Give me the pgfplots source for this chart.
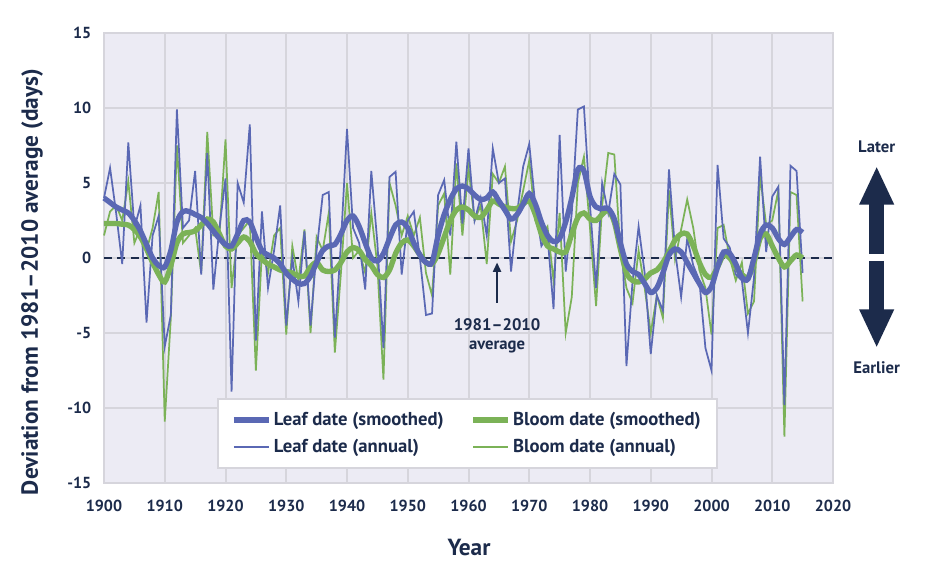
\documentclass[border=0pt]{standalone}
\usepackage{pgfplots}
\pgfplotsset{compat=1.18}
\usepackage{pgfplotstable}
\usepackage{fontspec}
\setmainfont{PT Sans}
\usetikzlibrary{arrows.meta}
\definecolor{bgc}{HTML}{ECEBF4}
\definecolor{gridc}{HTML}{D6D5DC}
\definecolor{leafc}{HTML}{5A68B4}
\definecolor{bloomc}{HTML}{7BB257}
\definecolor{navy}{HTML}{1C2B4B}

\pgfplotstableread{
year leaf bloom
1900 4.0 1.5
1901 6.0 3.1
1902 3.0 3.5
1903 -0.4 2.5
1904 7.7 5.1
1905 2.0 1.0
1906 3.5 2.0
1907 -4.3 0.5
1908 1.5 2.0
1909 2.8 4.4
1910 -5.9 -10.9
1911 -3.8 -4.0
1912 9.9 7.5
1913 2.0 1.0
1914 2.5 1.5
1915 5.8 2.0
1916 -1.1 -1.0
1917 7.0 8.4
1918 -2.1 1.5
1919 2.0 1.5
1920 5.3 7.9
1921 -8.9 -2.0
1922 5.0 1.5
1923 3.7 2.0
1924 8.9 2.5
1925 -5.5 -7.5
1926 3.1 0.5
1927 -2.0 -1.0
1928 0.5 1.5
1929 3.5 2.0
1930 -4.5 -5.1
1931 0.0 0.8
1932 -2.9 -1.5
1933 1.8 1.9
1934 -4.5 -5.0
1935 0.5 1.4
1936 4.2 0.5
1937 4.4 3.0
1938 -5.3 -6.3
1939 1.0 -1.0
1940 8.6 5.0
1941 2.0 0.0
1942 1.0 0.5
1943 -2.1 -1.0
1944 5.8 3.0
1945 1.0 -0.5
1946 -6.0 -8.1
1947 5.4 5.0
1948 5.75 3.5
1949 -1.1 1.5
1950 2.5 2.8
1951 3.1 1.5
1952 0.0 2.7
1953 -3.8 -1.0
1954 -3.7 -2.5
1955 4.2 3.5
1956 5.2 4.3
1957 1.5 -1.1
1958 7.75 6.3
1959 2.3 1.5
1960 7.3 6.0
1961 2.5 2.5
1962 4.0 3.5
1963 1.5 -0.4
1964 7.3 5.6
1965 5.0 5.0
1966 5.3 6.1
1967 -0.9 1.1
1968 3.0 2.5
1969 6.1 4.5
1970 7.6 6.5
1971 3.5 2.5
1972 0.8 1.5
1973 1.5 2.1
1974 -3.4 -1.5
1975 8.2 3.0
1976 -0.9 -5.0
1977 3.0 -2.6
1978 9.9 5.0
1979 10.1 6.75
1980 3.5 2.0
1981 -2.0 -3.2
1982 5.0 3.5
1983 3.0 7.0
1984 5.6 6.9
1985 4.9 0.5
1986 -7.2 -2.0
1987 -1.6 -3.0
1988 2.1 0.5
1989 -1.0 -2.0
1990 -6.4 -5.0
1991 -2.5 -2.5
1992 -3.5 -4.0
1993 5.9 4.5
1994 0.5 -0.1
1995 -2.6 1.9
1996 1.3 3.9
1997 -0.5 2.0
1998 -1.5 -0.8
1999 -6.0 -2.0
2000 -7.5 -5.1
2001 6.2 2.0
2002 1.3 2.2
2003 0.7 0.0
2004 -1.1 -1.5
2005 -1.5 -0.3
2006 -5.0 -3.7
2007 -1.3 -2.9
2008 6.75 5.5
2009 0.4 2.2
2010 4.1 2.5
2011 4.75 4.5
2012 -9.8 -11.9
2013 6.15 4.4
2014 5.8 4.2
2015 -1.0 -2.9
}\annual

\pgfplotstableread{
year leaf bloom
1900 4.0 2.3
1901 3.7 2.3
1902 3.4 2.3
1903 3.2 2.25
1904 3.0 2.2
1905 2.5 1.9
1906 1.8 1.4
1907 0.9 0.6
1908 0.0 -0.3
1909 -0.5 -1.1
1910 -0.6 -1.6
1911 0.5 -0.5
1912 2.4 1.0
1913 3.1 1.6
1914 3.1 1.7
1915 2.9 1.8
1916 2.7 2.2
1917 2.3 2.6
1918 1.8 2.4
1919 1.3 1.6
1920 0.9 0.8
1921 0.8 0.6
1922 1.6 1.0
1923 2.5 1.4
1924 2.4 1.1
1925 1.4 0.3
1926 0.5 -0.1
1927 0.2 -0.4
1928 0.0 -0.6
1929 -0.4 -0.8
1930 -1.0 -0.9
1931 -1.4 -1.0
1932 -1.7 -1.2
1933 -1.7 -1.2
1934 -1.2 -0.6
1935 -0.3 -0.3
1936 0.5 -0.8
1937 0.8 -0.9
1938 0.9 -0.8
1939 1.6 -0.3
1940 2.5 0.4
1941 2.8 0.7
1942 2.1 0.5
1943 1.0 -0.1
1944 0.0 -0.5
1945 -0.2 -1.1
1946 0.3 -1.3
1947 1.3 -0.8
1948 2.2 0.3
1949 2.4 1.0
1950 2.0 1.2
1951 1.0 0.8
1952 0.2 0.2
1953 -0.3 -0.3
1954 -0.3 -0.4
1955 1.5 0.3
1956 2.9 1.4
1957 3.9 2.5
1958 4.6 3.2
1959 4.8 3.4
1960 4.6 3.2
1961 4.2 2.8
1962 3.9 2.7
1963 4.0 3.2
1964 4.4 3.8
1965 3.8 3.6
1966 3.2 3.4
1967 2.6 3.3
1968 2.9 3.3
1969 3.6 3.6
1970 4.3 3.8
1971 3.6 2.9
1972 2.4 1.6
1973 1.5 0.8
1974 1.1 0.6
1975 1.3 0.4
1976 2.4 0.4
1977 4.0 1.6
1978 5.9 2.7
1979 5.8 3.0
1980 4.1 2.6
1981 3.4 2.5
1982 3.3 2.9
1983 3.3 3.2
1984 2.6 2.4
1985 1.0 0.6
1986 -0.4 -1.0
1987 -0.9 -1.5
1988 -1.1 -1.6
1989 -1.7 -1.4
1990 -2.3 -1.0
1991 -2.0 -0.8
1992 -1.0 -0.3
1993 0.2 0.4
1994 0.6 1.2
1995 0.4 1.6
1996 -0.3 1.6
1997 -1.0 0.8
1998 -1.7 -0.3
1999 -2.3 -1.1
2000 -1.9 -1.3
2001 -0.6 -0.6
2002 0.4 0.2
2003 0.3 0.0
2004 -0.4 -0.6
2005 -1.3 -1.1
2006 -1.4 -1.3
2007 0.0 -0.3
2008 1.6 1.3
2009 2.2 1.6
2010 2.0 0.8
2011 1.3 0.0
2012 0.9 -0.6
2013 1.4 -0.2
2014 1.9 0.2
2015 1.7 0.0
}\smoothed

\begin{document}
\begin{tikzpicture}
\useasboundingbox (-78pt,-72.75pt) rectangle (618pt,362.25pt);
\begin{axis}[
  at={(0pt,0pt)}, anchor=south west,
  scale only axis, width=546.75pt, height=337.5pt,
  xmin=1900, xmax=2020, ymin=-15, ymax=15,
  xtick={1900,1910,...,2020},
  xticklabels={1900,1910,1920,1930,1940,1950,1960,1970,1980,1990,2000,2010,2020},
  ytick={-15,-10,...,15},
  yticklabels={-15,-10,-5,0,5,10,15},
  major tick length=0pt,
  tick label style={font=\fontsize{12}{14}\selectfont\bfseries, text=navy},
  xticklabel style={yshift=-9pt},
  yticklabel style={xshift=-6pt},
  grid=major,
  major grid style={draw=gridc, line width=1.5pt},
  axis line style={draw=gridc, line width=1.5pt},
  axis background/.style={fill=bgc},
  clip=false,
  legend columns=2,
  legend cell align=left,
  legend style={at={(axis cs:1918.6,-9.33)}, anchor=north west,
    fill=white, draw=gridc, line width=1.5pt,
    font=\fontsize{14}{16}\selectfont\bfseries, text=navy,
    inner xsep=10pt, inner ysep=8pt,
    /tikz/every even column/.append style={column sep=18pt},
    row sep=5pt},
  legend image code/.code={\draw[#1] (0pt,0pt) -- (26pt,0pt);},
]
\addlegendimage{leafc, line width=4pt}
\addlegendentry{Leaf date (smoothed)}
\addlegendimage{bloomc, line width=4pt}
\addlegendentry{Bloom date (smoothed)}
\addlegendimage{leafc, line width=1.5pt}
\addlegendentry{Leaf date (annual)}
\addlegendimage{bloomc, line width=1.5pt}
\addlegendentry{Bloom date (annual)}

\addplot[navy, line width=1.8pt, dash pattern=on 6pt off 4pt, forget plot] coordinates {(1900,0) (2020,0)};
\addplot[bloomc, line width=1.3pt, forget plot] table[x=year, y=bloom] {\annual};
\addplot[leafc, line width=1.3pt, forget plot] table[x=year, y=leaf] {\annual};
\addplot[bloomc, line width=4pt, smooth, forget plot] table[x=year, y=bloom] {\smoothed};
\addplot[leafc, line width=4pt, smooth, forget plot] table[x=year, y=leaf] {\smoothed};

\draw[navy, line width=1.5pt, -{Triangle[width=6pt,length=7pt]}] (axis cs:1964.7,-3.0) -- (axis cs:1964.7,-0.3);
\node[navy, font=\fontsize{12.5}{14}\selectfont\bfseries, align=center, anchor=north] at (axis cs:1964.7,-3.75) {1981–2010\\average};
\end{axis}
\node[navy, font=\fontsize{17.5}{20}\selectfont\bfseries] at (273.75pt,-48.75pt) {Year};
\node[navy, font=\fontsize{17.5}{20}\selectfont\bfseries, rotate=90] at (-54pt,150.75pt) {Deviation from 1981–2010 average (days)};
\node[navy, font=\fontsize{12.5}{14}\selectfont\bfseries] at (579.5pt,252pt) {Later};
\node[navy, font=\fontsize{12.5}{14}\selectfont\bfseries] at (579.5pt,86.25pt) {Earlier};
\draw[navy, line width=11pt, -{Triangle[width=24pt,length=29pt]}] (579.5pt,171.75pt) -- (579.5pt,237.75pt);
\draw[navy, line width=11pt, -{Triangle[width=24pt,length=29pt]}] (579.5pt,166.5pt) -- (579.5pt,101.25pt);
\end{tikzpicture}
\end{document}
